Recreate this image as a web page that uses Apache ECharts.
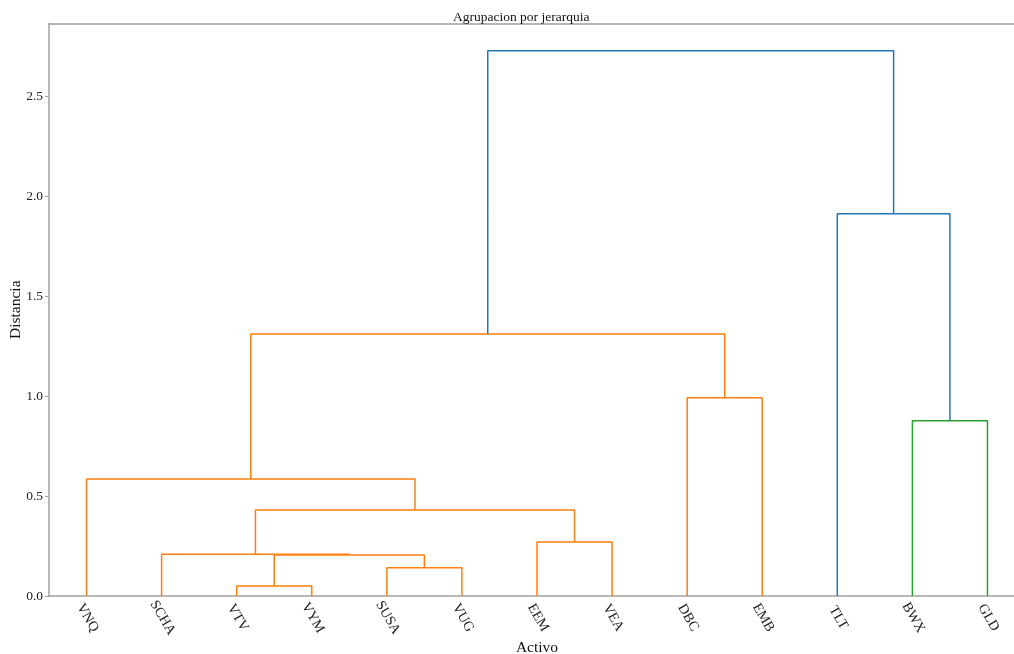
<!DOCTYPE html>
<html>
<head>
<meta charset="utf-8">
<script src="https://cdn.jsdelivr.net/npm/echarts@6/dist/echarts.min.js"></script>
<style>
html,body{margin:0;padding:0;background:#fff;}
#chart{width:1014px;height:654px;}
</style>
</head>
<body>
<div id="chart"></div>
<script>
// Leaf labels in dendrogram order
const leafLabels = ['VNQ','SCHA','VTV','VYM','SUSA','VUG','EEM','VEA','DBC','EMB','TLT','BWX','GLD'];
// Merges (scipy-style): child A, child B (ids < 13 are leaves, >= 13 are earlier merges), distance, colour key
const mergeLeft   = [2, 4, 13, 1, 6, 16, 0, 11, 8, 19, 10, 22];
const mergeRight  = [3, 5, 14, 15, 7, 17, 18, 12, 9, 21, 20, 23];
const mergeHeight = [0.05, 0.142, 0.205, 0.209, 0.27, 0.431, 0.586, 0.877, 0.993, 1.312, 1.914, 2.73];
const mergeColor  = ['C1','C1','C1','C1','C1','C1','C1','C2','C1','C1','C0','C0'];
const yTicks = [0, 0.5, 1.0, 1.5, 2.0, 2.5];

const palette = {C0:'#1f77b4', C1:'#ff7f0e', C2:'#2ca02c'};
const nLeaves = leafLabels.length;
// node position on the dendrogram's x scale (scipy: leaf i at 5 + 10*i)
const nodeX = [], nodeY = [];
for (let i = 0; i < nLeaves; i++) { nodeX.push(5 + 10 * i); nodeY.push(0); }
const series = [];
for (let k = 0; k < mergeLeft.length; k++) {
  const a = mergeLeft[k], b = mergeRight[k], h = mergeHeight[k];
  series.push({
    type: 'line',
    xAxisIndex: 1,
    yAxisIndex: 0,
    symbol: 'none',
    silent: true,
    lineStyle: {color: palette[mergeColor[k]], width: 1.5},
    data: [[nodeX[a], nodeY[a]], [nodeX[a], h], [nodeX[b], h], [nodeX[b], nodeY[b]]],
    animation: false
  });
  nodeX.push((nodeX[a] + nodeX[b]) / 2);
  nodeY.push(h);
}
const yMax = Math.max(...mergeHeight) * 1.05;
const font = 'Liberation Serif, Times New Roman, serif';
const spine = {lineStyle: {color: '#a0a0a0', width: 1.5}};

const chart = echarts.init(document.getElementById('chart'), null, {renderer: 'canvas'});
chart.setOption({
  backgroundColor: '#fff',
  animation: false,
  title: {
    text: 'Agrupacion por jerarquia',
    left: 448, top: 5,
    textStyle: {fontFamily: font, fontSize: 13.5, fontWeight: 'normal', color: '#111'}
  },
  grid: {left: 49, right: -11, top: 23.5, bottom: 58, containLabel: false, outerBoundsMode: 'none'},
  xAxis: [
    {
      type: 'category', data: leafLabels, boundaryGap: true, position: 'bottom',
      axisLine: {show: true, onZero: false, lineStyle: spine.lineStyle},
      axisTick: {show: false},
      axisLabel: {rotate: -60, align: 'center', verticalAlign: 'middle', margin: 20,
                  padding: [0, 0, 0, 4],
                  fontFamily: font, fontSize: 14, color: '#222', interval: 0},
      splitLine: {show: false},
      name: 'Activo', nameLocation: 'middle', nameGap: 44, nameMoveOverlap: false,
      nameTextStyle: {fontFamily: font, fontSize: 15.5, color: '#111'}
    },
    {
      type: 'value', min: 0, max: nLeaves * 10, show: false
    },
    {
      type: 'value', min: 0, max: 1, position: 'top',
      axisLine: {show: true, lineStyle: spine.lineStyle},
      axisTick: {show: false}, axisLabel: {show: false}, splitLine: {show: false}
    }
  ],
  yAxis: [{
    type: 'value', min: 0, max: yMax, interval: 0.5,
    axisLine: {show: true, onZero: false, lineStyle: spine.lineStyle},
    axisTick: {show: true, length: 4, customValues: yTicks, lineStyle: {color: '#a0a0a0'}},
    axisLabel: {customValues: yTicks, margin: 6, fontFamily: font, fontSize: 13.5, color: '#222',
                formatter: v => v.toFixed(1)},
    splitLine: {show: false},
    name: 'Distancia', nameLocation: 'middle', nameGap: 25, nameMoveOverlap: false,
    nameTextStyle: {fontFamily: font, fontSize: 15.5, color: '#111'}
  }],
  series: series
});
</script>
</body>
</html>
